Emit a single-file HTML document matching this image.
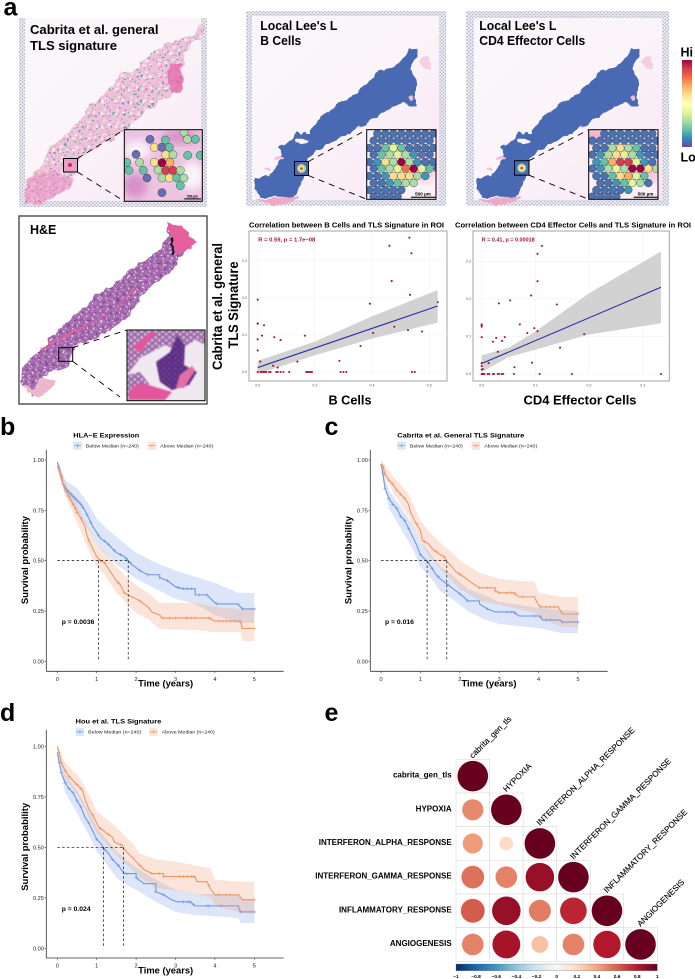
<!DOCTYPE html>
<html lang="en">
<head>
<meta charset="utf-8">
<title>Spatial TLS signature figure</title>
<style>
html,body{margin:0;padding:0;background:#fff;}
svg{display:block;font-family:"Liberation Sans",sans-serif;}
text{font-family:"Liberation Sans",sans-serif;}
</style>
</head>
<body>
<svg id="fig" xmlns="http://www.w3.org/2000/svg" width="695" height="979" viewBox="0 0 695 979">
<defs>
  <filter id="soft" x="-5%" y="-5%" width="110%" height="110%"><feGaussianBlur stdDeviation="0.7"/></filter>
  <filter id="softer" x="-20%" y="-20%" width="140%" height="140%"><feGaussianBlur stdDeviation="4"/></filter>
  <filter id="rough" x="-5%" y="-5%" width="110%" height="110%">
    <feTurbulence type="fractalNoise" baseFrequency="0.12" numOctaves="2" seed="4" result="n"/>
    <feDisplacementMap in="SourceGraphic" in2="n" scale="7" xChannelSelector="R" yChannelSelector="G"/>
    <feGaussianBlur stdDeviation="0.35"/>
  </filter>
  <filter id="roughLarge" x="-5%" y="-5%" width="110%" height="110%">
    <feTurbulence type="fractalNoise" baseFrequency="0.04" numOctaves="2" seed="7" result="n"/>
    <feDisplacementMap in="SourceGraphic" in2="n" scale="22" xChannelSelector="R" yChannelSelector="G"/>
    <feGaussianBlur stdDeviation="1"/>
  </filter>
  <pattern id="fid" width="3.6" height="3.4" patternUnits="userSpaceOnUse">
    <rect width="3.6" height="3.4" fill="#eeeef3"/>
    <circle cx="0.9" cy="0.85" r="0.75" fill="#a4a7bd"/>
    <circle cx="2.7" cy="2.55" r="0.75" fill="#a4a7bd"/>
  </pattern>
  <pattern id="tlsDots" width="42" height="37" patternUnits="userSpaceOnUse">
    <rect width="42" height="37" fill="#f2c0dc"/>
    <circle cx="5" cy="6" r="3" fill="#5fae9c"/>
    <circle cx="24" cy="3" r="2.8" fill="#9fd28f"/>
    <circle cx="36" cy="13" r="3" fill="#56a79c"/>
    <circle cx="15" cy="18" r="2.8" fill="#86c79a"/>
    <circle cx="28" cy="26" r="3" fill="#5fae9c"/>
    <circle cx="6" cy="30" r="2.8" fill="#a8d98e"/>
    <circle cx="38" cy="33" r="2.4" fill="#8b9cc8"/>
    <circle cx="18" cy="33" r="3.4" fill="#fbeef6"/>
    <circle cx="33" cy="6" r="3.4" fill="#fbeef6"/>
    <circle cx="13" cy="9" r="4" fill="#fbeaf4"/>
    <circle cx="23" cy="14" r="2.6" fill="#e678b4"/>
  </pattern>
  <pattern id="heTex" width="21" height="19" patternUnits="userSpaceOnUse">
    <rect width="21" height="19" fill="#a267ab"/>
    <circle cx="4" cy="4" r="2.7" fill="#e2cde5"/>
    <circle cx="15" cy="7" r="2.6" fill="#7b4596"/>
    <circle cx="9" cy="14" r="2.7" fill="#e2cfe6"/>
    <circle cx="18" cy="16" r="2.2" fill="#c08ac2"/>
  </pattern>
  <pattern id="heFine" width="6" height="5.4" patternUnits="userSpaceOnUse">
    <rect width="6" height="5.4" fill="#5d2f85"/>
    <circle cx="1.5" cy="1.3" r=".8" fill="#8a5aa6"/>
    <circle cx="4.4" cy="3.8" r=".8" fill="#7a4a9a"/>
  </pattern>
  <pattern id="heFinePale" width="7" height="6" patternUnits="userSpaceOnUse">
    <rect width="7" height="6" fill="#a06aac"/>
    <circle cx="1.7" cy="1.5" r="1.1" fill="#ecdcee"/>
    <circle cx="5.2" cy="4.2" r="1.1" fill="#e8d8ec"/>
  </pattern>
  <linearGradient id="pinkBg" x1="0" y1="0" x2="1" y2="1">
    <stop offset="0" stop-color="#f9f7f9"/><stop offset="0.5" stop-color="#fbf4f9"/><stop offset="1" stop-color="#f9e3f1"/>
  </linearGradient>
  <linearGradient id="spectralBar" x1="0" y1="0" x2="0" y2="1">
    <stop offset="0" stop-color="#9e0142"/><stop offset="0.1" stop-color="#d53e4f"/><stop offset="0.2" stop-color="#f46d43"/>
    <stop offset="0.3" stop-color="#fdae61"/><stop offset="0.4" stop-color="#fee08b"/><stop offset="0.5" stop-color="#ffffbf"/>
    <stop offset="0.6" stop-color="#e6f598"/><stop offset="0.7" stop-color="#abdda4"/><stop offset="0.8" stop-color="#66c2a5"/>
    <stop offset="0.9" stop-color="#3288bd"/><stop offset="1" stop-color="#5e4fa2"/>
  </linearGradient>
  <linearGradient id="corrBar" x1="0" y1="0" x2="1" y2="0">
    <stop offset="0" stop-color="#053061"/><stop offset="0.1" stop-color="#2166ac"/><stop offset="0.2" stop-color="#4393c3"/>
    <stop offset="0.3" stop-color="#92c5de"/><stop offset="0.4" stop-color="#d1e5f0"/><stop offset="0.5" stop-color="#f7f7f7"/>
    <stop offset="0.6" stop-color="#fddbc7"/><stop offset="0.7" stop-color="#f4a582"/><stop offset="0.8" stop-color="#d6604d"/>
    <stop offset="0.9" stop-color="#b2182b"/><stop offset="1" stop-color="#67001f"/>
  </linearGradient>
  <clipPath id="clipInset1"><rect x="124.3" y="129.7" width="78" height="71.6"/></clipPath>
  <clipPath id="clipInset2"><rect x="366.7" y="129.7" width="69.3" height="69.6"/></clipPath>
  <clipPath id="clipInset3"><rect x="588.7" y="129.7" width="69.3" height="69.6"/></clipPath>
  <clipPath id="clipHe"><rect x="127" y="330" width="78" height="70.7"/></clipPath>
</defs>

<!-- PANEL A : spatial images -->
<text x="3.5" y="15.5" font-size="25" font-weight="700" fill="#000">a</text>

<g>
  <rect x="19" y="18" width="188" height="189" fill="url(#pinkBg)"/>
  <path d="M19 18H25V201H201V18H207V207H19Z" fill="url(#fid)"/>
  <g transform="scale(.33333)" filter="url(#roughLarge)">
    <polygon points="72,580 78,545 105,515 130,490 150,440 180,420 210,400 225,370 255,345 265,310 300,290 345,250 365,220 410,205 440,170 470,150 495,130 540,115 580,105 600,70 615,80 610,115 575,125 550,180 548,270 515,285 470,310 430,345 370,395 300,440 240,470 225,520 215,560 175,585 120,615 75,610" fill="url(#tlsDots)"/>
    <polygon points="75,575 90,530 150,510 215,535 210,560 170,585 115,610 75,608" fill="#e985bd" opacity=".45"/>
    <polygon points="505,190 545,195 548,265 515,280 505,240" fill="#e55fa7" opacity=".7"/>
  </g>
  <rect x="63.5" y="158.5" width="14" height="13.5" fill="#e8a0c8" stroke="#000" stroke-width="1"/>
  <circle cx="70" cy="165" r="2" fill="#c9304a"/>
  <line x1="77.5" y1="158.5" x2="124.3" y2="129.7" stroke="#000" stroke-width=".9" stroke-dasharray="6 5"/>
  <line x1="77.5" y1="172" x2="124.3" y2="201.3" stroke="#000" stroke-width=".9" stroke-dasharray="6 5"/>
  <rect x="124.3" y="129.7" width="78" height="71.6" fill="#ecc4e2"/>
  <g clip-path="url(#clipInset1)">
    <ellipse cx="137" cy="150" rx="13" ry="9" fill="#faf3fa" filter="url(#softer)"/>
    <ellipse cx="192" cy="176" rx="12" ry="14" fill="#faf3fa" filter="url(#softer)"/>
    <ellipse cx="180" cy="137" rx="18" ry="7" fill="#d890c8" filter="url(#softer)"/>
    <ellipse cx="135" cy="186" rx="12" ry="12" fill="#d890c8" filter="url(#softer)"/>
    <g id="spots1"></g>
  </g>
  <rect x="124.3" y="129.7" width="78" height="71.6" fill="none" stroke="#000" stroke-width="1"/>
  <text x="192.5" y="197.3" font-size="3.2" font-weight="700" text-anchor="middle">500 µm</text>
  <rect x="184.3" y="198.4" width="16.7" height="1" fill="#000"/>
  <text x="30" y="34" font-size="13" font-weight="700" textLength="128.5" lengthAdjust="spacingAndGlyphs">Cabrita et al. general</text>
  <text x="30" y="50" font-size="13" font-weight="700" textLength="87" lengthAdjust="spacingAndGlyphs">TLS signature</text>
</g>

<g>
  <rect x="246" y="11" width="200" height="195" fill="url(#pinkBg)"/>
  <path d="M246 11H446V206H246ZM252 16V200H439V16Z" fill="url(#fid)" fill-rule="evenodd"/>
  <g transform="translate(-222,0)" filter="url(#rough)">
    <use href="#blueTissue"/>
  </g>
  <rect x="294.5" y="161.5" width="14" height="14" fill="#4a6ab2" stroke="#000" stroke-width="1"/>
  <circle cx="301.5" cy="168.5" r="4.5" fill="#a9dca0"/>
  <circle cx="301.5" cy="168.5" r="2.8" fill="#fde58e"/>
  <circle cx="301.5" cy="168.5" r="1.3" fill="#c9304a"/>
  <line x1="308.5" y1="161.5" x2="366.7" y2="129.7" stroke="#000" stroke-width=".9" stroke-dasharray="6 5"/>
  <line x1="308.5" y1="175.5" x2="366.7" y2="199.3" stroke="#000" stroke-width=".9" stroke-dasharray="6 5"/>
  <rect x="366.7" y="129.7" width="69.3" height="69.6" fill="#fbf1f7"/>
  <g clip-path="url(#clipInset2)">
    <ellipse cx="425" cy="172" rx="10" ry="10" fill="#f3c6dd" filter="url(#softer)"/>
    <g id="spots2"></g>
  </g>
  <rect x="366.7" y="129.7" width="69.3" height="69.6" fill="none" stroke="#000" stroke-width="1"/>
  <text x="423" y="195.5" font-size="4.6" font-weight="700" text-anchor="middle">500 µm</text>
  <rect x="411" y="196.7" width="24.3" height="1.1" fill="#000"/>
  <text x="260.3" y="30" font-size="12.5" font-weight="700" textLength="77" lengthAdjust="spacingAndGlyphs">Local Lee's L</text>
  <text x="260.3" y="45" font-size="12.5" font-weight="700" textLength="41" lengthAdjust="spacingAndGlyphs">B Cells</text>
</g>

<g>
  <rect x="466" y="11" width="203" height="195" fill="url(#pinkBg)"/>
  <path d="M466 11H669V206H466ZM474 18V200H662V18Z" fill="url(#fid)" fill-rule="evenodd"/>
  <g filter="url(#rough)">
    <g id="blueTissue">
      <path d="M478 200Q505 210 520 197L510 196Z" fill="#eda9cb"/>
      <polygon fill="#4a6ab2" points="477,187 478,178 491,176 503,160 501,148 515,140 518,133 531,133 541,117 555,108 572,97 585,88 598,73 621,65 631,49 639,48 639,57 633,67 634,73 639,80 639,107 623,103 608,112 586,125 558,140 528,158 525,180 516,197 500,196 482,198"/>
      <ellipse cx="523" cy="141" rx="6" ry="2.2" fill="#fbf4f9"/>
      <ellipse cx="500" cy="158" rx="5" ry="2" fill="#f3c0da"/>
      <ellipse cx="488" cy="170" rx="3" ry="1.5" fill="#f3c0da"/>
      <ellipse cx="633" cy="98" rx="3.5" ry="2" fill="#f2bcd8"/>
      <ellipse cx="648" cy="62" rx="5" ry="7" fill="#f4cfe2"/>
    </g>
  </g>
  <rect x="514.5" y="160.7" width="14.5" height="14.5" fill="#4a6ab2" stroke="#000" stroke-width="1"/>
  <circle cx="521.7" cy="168" r="4.5" fill="#a9dca0"/>
  <circle cx="521.7" cy="168" r="2.8" fill="#fde58e"/>
  <circle cx="521.7" cy="168" r="1.3" fill="#c9304a"/>
  <line x1="529" y1="160.7" x2="588.7" y2="129.7" stroke="#000" stroke-width=".9" stroke-dasharray="6 5"/>
  <line x1="529" y1="175.2" x2="588.7" y2="199.3" stroke="#000" stroke-width=".9" stroke-dasharray="6 5"/>
  <rect x="588.7" y="129.7" width="69.3" height="69.6" fill="#fbf1f7"/>
  <g clip-path="url(#clipInset3)">
    <ellipse cx="594" cy="136" rx="11" ry="9" fill="#eeb0d0" filter="url(#softer)"/>
    <ellipse cx="652" cy="172" rx="8" ry="12" fill="#f3c6dd" filter="url(#softer)"/>
    <g id="spots3"></g>
  </g>
  <rect x="588.7" y="129.7" width="69.3" height="69.6" fill="none" stroke="#000" stroke-width="1"/>
  <text x="645.5" y="195.5" font-size="4.6" font-weight="700" text-anchor="middle">500 µm</text>
  <rect x="633.7" y="196.7" width="24" height="1.1" fill="#000"/>
  <text x="479.3" y="30" font-size="12.5" font-weight="700" textLength="77" lengthAdjust="spacingAndGlyphs">Local Lee's L</text>
  <text x="479.3" y="45" font-size="12.5" font-weight="700" textLength="106" lengthAdjust="spacingAndGlyphs">CD4 Effector Cells</text>
</g>

<g>
  <text x="680.5" y="56.5" font-size="12.5" font-weight="700">Hi</text>
  <rect x="682" y="60" width="10" height="87" fill="url(#spectralBar)"/>
  <text x="680.5" y="161.5" font-size="12.5" font-weight="700">Lo</text>
</g>

<!-- H&E -->
<g>
  <rect x="19" y="216" width="188" height="188" fill="#fff" stroke="#4a4a4a" stroke-width="1.4"/>
  <text x="30" y="234" font-size="12.5" font-weight="700">H&amp;E</text>
  <g transform="translate(0,235) scale(.33333)" filter="url(#roughLarge)">
    <polygon points="60,440 70,395 120,345 170,290 230,235 285,185 340,150 385,110 470,50 500,10 505,-35 540,-30 590,25 560,45 520,100 480,130 440,165 400,215 380,255 300,300 225,335 205,395 130,420 120,470 100,485 70,455" fill="url(#heTex)"/>
    <polygon points="505,-35 540,-30 590,25 560,45 530,60 520,30" fill="#e85fa0"/>
    <path d="M512 10L522 65" stroke="#1c1020" stroke-width="7" fill="none"/>
    <path d="M350 220L400 165M220 290L310 245M120 345L170 320L230 280" stroke="#e8639f" stroke-width="5" fill="none"/>
    <path d="M60 445Q95 490 125 485L170 440L130 425L100 460Z" fill="#eab8cc"/>
  </g>
  <rect x="58.7" y="347.7" width="14" height="13.6" fill="none" stroke="#000" stroke-width="1"/>
  <line x1="72.7" y1="347.7" x2="127" y2="330" stroke="#000" stroke-width=".9" stroke-dasharray="6 5"/>
  <line x1="72.7" y1="361.3" x2="120" y2="397" stroke="#000" stroke-width=".9" stroke-dasharray="6 5"/>
  <rect x="127" y="330" width="78" height="70.7" fill="#f1e9f0"/>
  <g clip-path="url(#clipHe)" filter="url(#soft)">
    <polygon points="127,330 205,330 205,345 196,340 178,350 165,345 140,358 127,375" fill="url(#heFinePale)"/>
    <polygon points="127,375 140,372 150,385 160,394 145,400 127,400" fill="url(#heFinePale)"/>
    <polygon points="156,362 170,352 177,335 185,345 184,365 197,372 189,385 172,390 160,382" fill="url(#heFine)"/>
    <polygon points="133,348 150,332 155,333 140,353" fill="#e4559b"/>
    <polygon points="128,400 132,386 145,384 172,392 165,400" fill="#e4559b"/>
    <polygon points="180,375 192,366 195,370 184,388 176,388" fill="#e46ea6"/>
  </g>
  <rect x="127" y="330" width="78" height="70.7" fill="none" stroke="#000" stroke-width="1"/>
</g>

<text transform="translate(222,306.5) rotate(-90)" font-size="14" font-weight="700" text-anchor="middle" textLength="127" lengthAdjust="spacingAndGlyphs">Cabrita et al. general</text>
<text transform="translate(238,305) rotate(-90)" font-size="14" font-weight="700" text-anchor="middle" textLength="87" lengthAdjust="spacingAndGlyphs">TLS Signature</text>
<g id="scatters"></g>

<text x="0" y="435" font-size="25" font-weight="700">b</text>
<text x="324.5" y="435" font-size="25" font-weight="700">c</text>
<text x="0" y="721" font-size="25" font-weight="700">d</text>
<text x="324.5" y="721" font-size="25" font-weight="700">e</text>

<g id="kmPlots"></g>
<g id="corrPlot"></g>

<script>
// ---------- Panel a spots (level 0-10 on the spectral scale)
const spectralLevels = ['#6a6db3','#4a72b5','#3f96b7','#66c2a5','#abdda4','#e6f598','#fee08b','#fdae61','#f46d43','#d53e4f','#9e0142'];
const inset1Spots = [[552,397,4],[562,418,4],[586,418,3],[450,418,0],[496,420,3],[463,442,6],[485,442,0],[508,442,3],[408,463,0],[497,464,6],[519,464,4],[563,466,3],[601,466,3],[380,487,3],[419,487,4],[463,487,6],[486,488,10],[510,488,7],[387,511,3],[430,511,3],[474,510,4],[497,511,9],[519,511,9],[541,511,4],[441,534,0],[486,534,4],[508,534,6],[530,534,3],[552,534,4],[541,557,3],[486,578,0]];
const inset2Rows = [[401,73,'.11111111'],[422,86,'11111111'],[444,73,'113531111'],[464,86,'13454201'],[486,73,'1264a4211'],[506,86,'13458a531'],[528,73,'11266642.'],[549,86,'112344.'],[570,73,'11111'],[590,86,'1111']];
const inset3Rows = [[401,754,'.1111111'],[422,742,'111111111'],[444,754,'11464311'],[464,742,'124654211'],[486,754,'23799521'],[506,742,'12454aa64'],[528,754,'1136753.'],[549,742,'.1123541'],[570,754,'11112'],[590,742,'1111']];

function drawSpot(host, cx, cy, r, level) {
  const el = document.createElementNS('http://www.w3.org/2000/svg', 'circle');
  el.setAttribute('cx', cx);
  el.setAttribute('cy', cy);
  el.setAttribute('r', r);
  el.setAttribute('fill', spectralLevels[level]);
  el.setAttribute('stroke', '#222');
  el.setAttribute('stroke-width', '.35');
  
  
  host.appendChild(el);
}
inset1Spots.forEach(s => drawSpot(document.getElementById('spots1'), s[0] / 3, s[1] / 3, 4.1, s[2]));
function drawRows(rows, hostId, ox) {
  const host = document.getElementById(hostId);
  rows.forEach(row => {
    [...row[2]].forEach((c, i) => {
      if (c === '.') return;
      drawSpot(host, ox + (row[1] + 24 * i) / 3, row[0] / 3, 3.9, c === 'a' ? 10 : Number(c));
    });
  });
}
drawRows(inset2Rows, 'spots2', 345);
drawRows(inset3Rows, 'spots3', 345);

// ---------- helpers
const NS = 'http://www.w3.org/2000/svg';
function linear(d0, d1, r0, r1) { return v => r0 + (v - d0) * (r1 - r0) / (d1 - d0); }
function node(tag, attrs, parent, txt) {
  const el = document.createElementNS(NS, tag);
  for (const k in attrs) el.setAttribute(k, attrs[k]);
  if (txt !== undefined) el.textContent = txt;
  parent.appendChild(el);
  return el;
}

// ---------- Correlation scatter data
const scatter1X = [0,0,0,0,0,0.009,0.015,0.022,0.058,0.08,0.054,0.07,0.139,0.165,0.286,0.36,0.393,0.404,0.461,0.469,0.531,0.538,0.533,0.478,0.526,0.575,0.63,0,0.01,0.015,0.02,0.025,0.03,0.04,0.045,0.065,0.07,0.08,0.09,0.11,0.17,0.175,0.18,0.185,0.19,0.29,0.3,0.31,0.54,0.55];
const scatter1Y = [0.195,0.131,0.13,0.088,0.058,0.028,0.098,0.126,0.094,0.086,0.017,0.012,0.028,0.098,0.03,0.07,0.184,0.105,0.34,0.245,0.362,0.32,0.208,0.122,0.113,0.109,0.188,0,0,0,0,0,0,0,0,0,0,0,0,0,0,0,0,0,0,0,0,0,0,0];
const fit1X = [0,0.63];
const fit1Y = [0.012,0.178];
const band1X = [0,0.2,0.4,0.63];
const band1Upper = [0.03,0.082,0.15,0.221];
const band1Lower = [-0.005,0.045,0.09,0.133];
const scatter1XTicks = [0,0.2,0.4,0.6];
const scatter2X = [0.112,0.104,0.104,0.092,0.053,0.032,0.14,0,0,0,0.071,0.098,0.104,0.085,0.191,0,0.043,0.027,0.021,0.038,0.146,0.03,0.013,0.094,0.061,0,0,0.002,0,0,0.001,0.002,0.004,0.005,0.011,0.014,0.021,0.023,0.03,0.032,0.037,0.04,0.06,0.108,0.168,0.334];
const scatter2Y = [0.341,0.32,0.247,0.209,0.196,0.188,0.185,0.132,0.13,0.126,0.132,0.122,0.114,0.109,0.106,0.098,0.098,0.096,0.086,0.088,0.07,0.059,0.029,0.03,0.018,0.029,0.021,0.013,0.012,0,0,0,0,0,0,0,0,0,0,0,0,0,0,0,0,0];
const fit2X = [0,0.334];
const fit2Y = [0.028,0.231];
const band2X = [0,0.05,0.1,0.2,0.334];
const band2Upper = [0.05,0.07,0.113,0.215,0.326];
const band2Lower = [0.005,0.045,0.065,0.105,0.135];
const scatter2XTicks = [0,0.1,0.2,0.3];
const scatterYTicks = [0,0.1,0.2,0.3];

function drawScatter(cfg) {
  const host = document.getElementById('scatters');
  const g = node('g', {}, host);
  
  
  const x = linear(0, 1, cfg.x0, cfg.x0 + cfg.xs);
  const y = linear(0, 1, cfg.y0, cfg.y0 - cfg.ys);
  const title = node('text', {x: cfg.titleX, y: 227.5, 'font-size': 7.6, 'font-weight': 700, textLength: cfg.titleW, lengthAdjust: 'spacingAndGlyphs'}, g, cfg.title);
  
  
  const frame = node('rect', {x: cfg.left, y: 231, width: cfg.right - cfg.left, height: 150, fill: '#fff', stroke: '#9a9a9a', 'stroke-width': .9}, g);
  
  
  cfg.xTicks.forEach((t, i) => {
    const gl = node('line', {x1: x(t), x2: x(t), y1: 231, y2: 381, stroke: '#efefef', 'stroke-width': .5}, g);
    
    
    const lb = node('text', {x: x(t), y: 386.5, 'font-size': 3.6, fill: '#555', 'text-anchor': 'middle'}, g, t.toFixed(1));
    
    
  });
  scatterYTicks.forEach(t => {
    const gl = node('line', {x1: cfg.left, x2: cfg.right, y1: y(t), y2: y(t), stroke: '#efefef', 'stroke-width': .5}, g);
    
    
    const lb = node('text', {x: cfg.left - 2, y: y(t) + 1.2, 'font-size': 3.6, fill: '#555', 'text-anchor': 'end'}, g, t.toFixed(1));
    
    
  });
  let pts = cfg.bandX.map((v, i) => x(v) + ',' + y(cfg.upper[i]));
  pts = pts.concat(cfg.bandX.map((v, i) => x(v) + ',' + y(cfg.lower[i])).reverse());
  const band = node('polygon', {points: pts.join(' '), fill: '#d2d2d2'}, g);
  
  
  const fit = node('line', {x1: x(cfg.fitX[0]), y1: y(cfg.fitY[0]), x2: x(cfg.fitX[1]), y2: y(cfg.fitY[1]), stroke: '#2c2fa6', 'stroke-width': 1.1}, g);
  
  
  cfg.px.forEach((v, i) => {
    const p = node('circle', {cx: x(v), cy: y(cfg.py[i]), r: 1.05, fill: '#a8142f'}, g);
    
    
  });
  const stat = node('text', {x: cfg.statX, y: 241.7, 'font-size': 5.5, 'font-weight': 700, fill: '#a8142f', textLength: cfg.statW, lengthAdjust: 'spacingAndGlyphs'}, g, cfg.stat);
  
  
  const xt = node('text', {x: cfg.xTitleX, y: 404.5, 'font-size': 13, 'font-weight': 700, 'text-anchor': 'middle', textLength: cfg.xTitleW, lengthAdjust: 'spacingAndGlyphs'}, g, cfg.xTitle);
  
  
}
drawScatter({name:'scatter-b-cells', title:'Correlation between B Cells and TLS Signature in ROI', titleX:249, titleW:195, left:249, right:447, x0:257.7, xs:285.7, y0:372, ys:371, xTicks:scatter1XTicks, bandX:band1X, upper:band1Upper, lower:band1Lower, fitX:fit1X, fitY:fit1Y, px:scatter1X, py:scatter1Y, stat:'R = 0.59, p = 1.7e−08', statX:258.3, statW:57, xTitle:'B Cells', xTitleX:350, xTitleW:43});
drawScatter({name:'scatter-cd4-effector', title:'Correlation between CD4 Effector Cells and TLS Signature in ROI', titleX:455, titleW:236, left:473, right:669.3, x0:481.7, xs:536.7, y0:374, ys:375.7, xTicks:scatter2XTicks, bandX:band2X, upper:band2Upper, lower:band2Lower, fitX:fit2X, fitY:fit2Y, px:scatter2X, py:scatter2Y, stat:'R = 0.41, p = 0.00018', statX:481.7, statW:53, xTitle:'CD4 Effector Cells', xTitleX:580, xTitleW:113});

// ---------- Kaplan-Meier data (panel b)
const bBelowT = [0,0.05,0.1,0.15,0.25,0.4,0.5,0.6,0.7,0.8,0.9,1,1.1,1.25,1.4,1.5,1.7,1.8,1.9,2.1,2.3,2.6,2.8,3,3.2,3.5,3.8,3.95,4.05,4.6,4.7,5];
const bBelowS = [0.99,0.96,0.92,0.88,0.85,0.82,0.8,0.78,0.75,0.71,0.67,0.64,0.61,0.59,0.56,0.54,0.52,0.5,0.48,0.45,0.43,0.415,0.4,0.37,0.36,0.33,0.33,0.3,0.285,0.28,0.26,0.26];
const bBelowCiT = [0,0.2,0.5,0.8,1,1.25,1.5,1.8,2,2.5,3,3.5,4,4.6,5];
const bBelowUp = [1,0.9,0.86,0.78,0.71,0.66,0.62,0.57,0.54,0.49,0.45,0.42,0.39,0.34,0.34];
const bBelowLo = [0.97,0.82,0.75,0.65,0.58,0.53,0.48,0.44,0.41,0.36,0.31,0.285,0.23,0.19,0.19];
const bBelowCensor = [0.05,0.1,0.15,0.25,0.3,0.35,0.4,0.45,0.5,0.55,0.6,0.65,0.75,0.85,1.05,1.2,1.3,1.45,1.6,1.75,1.85,2.1,2.3,2.6,2.8,3.05,3.1,3.2,3.3,3.4,3.6,3.8,4.05,4.7,5];
const bAboveT = [0,0.05,0.1,0.2,0.3,0.4,0.5,0.6,0.7,0.75,0.8,0.9,1,1.1,1.2,1.3,1.4,1.5,1.6,1.7,1.9,2.1,2.3,2.4,2.6,2.65,3.5,3.9,4,4.65,4.7,5];
const bAboveS = [0.97,0.95,0.91,0.85,0.82,0.78,0.74,0.71,0.67,0.63,0.6,0.56,0.52,0.5,0.49,0.46,0.43,0.4,0.38,0.34,0.32,0.3,0.27,0.245,0.23,0.215,0.215,0.21,0.2,0.195,0.163,0.163];
const bAboveCiT = [0,0.3,0.5,0.8,1,1.2,1.5,1.8,2,2.3,2.6,3.5,4,4.65,4.7,5];
const bAboveUp = [0.99,0.85,0.78,0.66,0.58,0.55,0.47,0.41,0.38,0.34,0.29,0.29,0.27,0.26,0.26,0.26];
const bAboveLo = [0.95,0.78,0.69,0.55,0.47,0.43,0.34,0.28,0.24,0.21,0.16,0.155,0.145,0.145,0.1,0.1];
const bAboveCensor = [0.05,0.1,0.15,0.2,0.3,0.4,0.45,0.5,0.6,0.8,1.1,1.2,1.55,1.7,2.1,2.7,2.85,3,3.25,3.3,3.4,3.5,3.85,4.1,4.2,4.3,4.4,4.5,4.65,5];
const bMedians = [1.05,1.8];
// panel c
const cBelowT = [0,0.05,0.1,0.2,0.3,0.4,0.5,0.6,0.7,0.8,0.9,1,1.1,1.2,1.3,1.4,1.5,1.7,1.9,2.1,2.2,2.5,2.7,2.9,3.4,3.5,4.05,4.1,4.55,4.6,5];
const cBelowS = [0.98,0.93,0.86,0.81,0.78,0.76,0.72,0.7,0.66,0.62,0.58,0.53,0.51,0.49,0.46,0.43,0.41,0.38,0.35,0.32,0.3,0.285,0.26,0.245,0.24,0.225,0.22,0.205,0.205,0.195,0.195];
const cBelowCiT = [0,0.2,0.5,0.8,1,1.2,1.5,1.8,2.2,2.6,3,3.5,4,4.6,5];
const cBelowUp = [0.99,0.85,0.77,0.68,0.59,0.55,0.47,0.43,0.36,0.33,0.295,0.28,0.265,0.255,0.25];
const cBelowLo = [0.96,0.76,0.66,0.56,0.47,0.43,0.35,0.31,0.25,0.21,0.185,0.175,0.165,0.14,0.14];
const cBelowCensor = [0.05,0.1,0.2,0.3,0.4,0.5,0.6,0.7,1,1.2,1.3,1.45,1.7,2,2.2,2.7,3.2,3.3,3.4,3.9,4.05,4.2,4.3,4.6,5];
const cAboveT = [0,0.05,0.1,0.2,0.3,0.4,0.5,0.6,0.7,0.75,0.85,1,1.05,1.2,1.3,1.5,1.6,1.7,1.8,1.9,2.1,2.3,2.5,2.9,3,3.4,3.5,3.9,4,4.05,4.5,4.6,5];
const cAboveS = [0.98,0.97,0.93,0.9,0.88,0.85,0.83,0.81,0.78,0.74,0.7,0.65,0.6,0.585,0.56,0.53,0.52,0.49,0.47,0.445,0.42,0.39,0.365,0.35,0.34,0.335,0.32,0.315,0.28,0.27,0.27,0.235,0.235];
const cAboveCiT = [0,0.3,0.5,0.7,1,1.2,1.5,1.8,2,2.5,3,3.5,3.9,4,4.6,5];
const cAboveUp = [1,0.92,0.88,0.83,0.7,0.65,0.59,0.54,0.5,0.44,0.41,0.4,0.395,0.34,0.32,0.32];
const cAboveLo = [0.96,0.84,0.78,0.72,0.59,0.53,0.46,0.4,0.36,0.3,0.28,0.26,0.24,0.22,0.17,0.17];
const cAboveCensor = [0.05,0.1,0.2,0.3,0.4,0.5,0.6,0.9,1.1,1.4,1.6,2,2.5,2.7,2.9,3,3.2,3.3,3.4,3.6,4.05,4.2,4.3,4.4,5];
const cMedians = [1.17,1.67];
// panel d
const dBelowT = [0,0.05,0.1,0.2,0.3,0.4,0.5,0.6,0.7,0.8,0.9,1,1.1,1.2,1.3,1.4,1.55,1.7,2,2.2,2.5,2.7,2.9,3.05,3.4,3.5,4.6,4.65,5];
const dBelowS = [0.97,0.92,0.87,0.82,0.79,0.77,0.73,0.7,0.65,0.62,0.58,0.54,0.52,0.49,0.47,0.44,0.41,0.37,0.35,0.32,0.28,0.265,0.24,0.23,0.225,0.21,0.205,0.18,0.18];
const dBelowCiT = [0,0.2,0.5,0.8,1,1.2,1.5,1.8,2,2.5,3,3.5,4.6,4.65,5];
const dBelowUp = [0.99,0.86,0.78,0.68,0.6,0.55,0.48,0.43,0.4,0.34,0.29,0.27,0.265,0.245,0.245];
const dBelowLo = [0.95,0.77,0.67,0.56,0.48,0.43,0.35,0.31,0.29,0.23,0.18,0.165,0.15,0.125,0.125];
const dBelowCensor = [0.05,0.1,0.2,0.3,0.4,0.5,0.6,0.8,1,1.2,1.4,1.55,1.75,2,2.5,2.7,3.2,3.3,3.35,3.45,3.8,3.85,4.15,4.65,5];
const dAboveT = [0,0.05,0.1,0.2,0.3,0.5,0.65,0.7,0.8,0.9,1,1.05,1.25,1.4,1.45,1.65,1.7,1.9,2.1,2.2,2.4,2.7,3.5,3.55,3.8,3.9,4,4.6,4.7,5];
const dAboveS = [1,0.97,0.92,0.88,0.85,0.81,0.78,0.74,0.69,0.66,0.62,0.6,0.57,0.55,0.525,0.51,0.49,0.45,0.41,0.39,0.37,0.355,0.35,0.33,0.33,0.29,0.265,0.265,0.24,0.24];
const dAboveCiT = [0,0.2,0.5,0.7,1,1.5,1.9,2.1,2.5,3,3.5,3.9,4,4.6,5];
const dAboveUp = [1,0.92,0.86,0.8,0.68,0.6,0.52,0.47,0.44,0.43,0.41,0.395,0.34,0.33,0.33];
const dAboveLo = [0.98,0.84,0.76,0.69,0.57,0.46,0.39,0.35,0.3,0.285,0.27,0.25,0.21,0.18,0.17];
const dAboveCensor = [0.05,0.1,0.2,0.3,0.5,0.6,0.9,1.1,1.3,1.6,2.1,2.4,2.6,2.7,3.1,3.2,3.3,3.4,3.45,3.85,4.1,4.3,4.4,5];
const dMedians = [1.17,1.68];
const kmXTicks = [0,1,2,3,4,5];
const kmYTicks = [0,0.25,0.5,0.75,1];

function curvePts(ts, vs, x, y) {
  const out = [];
  ts.forEach((t, i) => {
    if (i > 0 && t - ts[i - 1] > 0.22) out.push(x(t) + ',' + y(vs[i - 1]));
    out.push(x(t) + ',' + y(vs[i]));
  });
  return out;
}
function straightPts(ts, vs, x, y) {
  return ts.map((t, i) => x(t) + ',' + y(vs[i]));
}
function curveVal(ts, vs, t) {
  for (let i = 1; i < ts.length; i++) {
    if (t <= ts[i]) {
      if (ts[i] - ts[i - 1] > 0.22) return t === ts[i] ? vs[i] : vs[i - 1];
      return vs[i - 1] + (vs[i] - vs[i - 1]) * (t - ts[i - 1]) / (ts[i] - ts[i - 1]);
    }
  }
  return vs[vs.length - 1];
}
function drawSeries(g, cfg, s, x, y) {
  const upper = straightPts(s.ciT, s.up, x, y);
  const lower = straightPts(s.ciT, s.lo, x, y).reverse();
  const band = node('polygon', {points: upper.concat(lower).join(' '), fill: s.color, 'fill-opacity': .24}, g);
  
  
  const line = node('polyline', {points: curvePts(s.t, s.s, x, y).join(' '), fill: 'none', stroke: s.color, 'stroke-width': 1.1}, g);
  
  
  s.censor.forEach(t => {
    const v = curveVal(s.t, s.s, t);
    const mark = node('path', {d: 'M' + (x(t) - 1.6) + ' ' + y(v) + 'h3.2M' + x(t) + ' ' + (y(v) - 1.6) + 'v3.2', stroke: s.color, 'stroke-width': .6, fill: 'none'}, g);
    
    
  });
}
function drawKM(cfg) {
  const host = document.getElementById('kmPlots');
  const g = node('g', {}, host);
  
  
  const x = linear(0, 5, cfg.x0, cfg.x0 + 197);
  const y = linear(0, 1, cfg.y0, cfg.y1);
  drawSeries(g, cfg, cfg.below, x, y);
  drawSeries(g, cfg, cfg.above, x, y);
  const h = node('line', {x1: x(0), x2: x(cfg.medians[1]), y1: y(.5), y2: y(.5), stroke: '#111', 'stroke-width': .7, 'stroke-dasharray': '2.6 2.2'}, g);
  
  
  cfg.medians.forEach(m => {
    const v = node('line', {x1: x(m), x2: x(m), y1: y(.5), y2: y(0), stroke: '#111', 'stroke-width': .7, 'stroke-dasharray': '2.6 2.2'}, g);
    
    
  });
  const ax = node('line', {x1: cfg.axL, x2: cfg.axL + 237.4, y1: cfg.axB, y2: cfg.axB, stroke: '#333', 'stroke-width': .8}, g);
  
  
  const ay = node('line', {x1: cfg.axL, x2: cfg.axL, y1: cfg.axT, y2: cfg.axB, stroke: '#333', 'stroke-width': .8}, g);
  
  
  kmXTicks.forEach(t => {
    const tk = node('line', {x1: x(t), x2: x(t), y1: cfg.axB, y2: cfg.axB + 1.8, stroke: '#333', 'stroke-width': .6}, g);
    
    
    const lb = node('text', {x: x(t), y: cfg.axB + 9.5, 'font-size': 5.6, 'text-anchor': 'middle', fill: '#222'}, g, String(t));
    
    
  });
  kmYTicks.forEach(t => {
    const tk = node('line', {x1: cfg.axL - 1.8, x2: cfg.axL, y1: y(t), y2: y(t), stroke: '#333', 'stroke-width': .6}, g);
    
    
    const lb = node('text', {x: cfg.axL - 2.4, y: y(t) + 2, 'font-size': 5.6, 'text-anchor': 'end', fill: '#222'}, g, t.toFixed(2));
    
    
  });
  const xt = node('text', {x: cfg.timeX, y: cfg.axB + 15.4, 'font-size': 9, 'font-weight': 700, 'text-anchor': 'middle', textLength: 55, lengthAdjust: 'spacingAndGlyphs'}, g, 'Time (years)');
  
  
  const yt = node('text', {transform: 'translate(' + cfg.survX + ',' + (y(.5) - .5) + ') rotate(-90)', 'font-size': 9, 'font-weight': 700, 'text-anchor': 'middle', textLength: 88, lengthAdjust: 'spacingAndGlyphs'}, g, 'Survival probability');
  
  
  const pv = node('text', {x: cfg.pX, y: y(.25) + 13, 'font-size': 6.8, 'font-weight': 700}, g, cfg.p);
  
  
  const ti = node('text', {x: cfg.legX[0], y: cfg.titleY, 'font-size': 6.6, 'font-weight': 700, textLength: cfg.titleW, lengthAdjust: 'spacingAndGlyphs'}, g, cfg.title);
  
  
  [cfg.below, cfg.above].forEach((s, i) => {
    const sw = node('rect', {x: cfg.legX[i], y: cfg.titleY + 4.2, width: 8.4, height: 8.3, fill: s.color, 'fill-opacity': .24}, g);
    
    
    const sl = node('path', {d: 'M' + (cfg.legX[i] + .5) + ' ' + (cfg.titleY + 8.4) + 'h7.4M' + (cfg.legX[i] + 4.2) + ' ' + (cfg.titleY + 6.8) + 'v3.2', stroke: s.color, 'stroke-width': .7, fill: 'none'}, g);
    
    
    const lb = node('text', {x: cfg.legX[i] + 12.5, y: cfg.titleY + 10, 'font-size': 4.8, fill: '#222', textLength: 53, lengthAdjust: 'spacingAndGlyphs'}, g, s.label);
    
    
  });
}
const BLUE = '#6f96e3', ORANGE = '#ee9467';
drawKM({name:'survival-plot-hla-e', title:'HLA−E Expression', titleW:66, titleY:437.3, legX:[73.3,147.7], x0:57.3, y0:661.3, y1:460, axL:46.3, axB:671.3, axT:450, timeX:165.7, survX:28, pX:61.7, p:'p = 0.0036', medians:bMedians,
  below:{key:'below-median', label:'Below Median (n=240)', color:BLUE, t:bBelowT, s:bBelowS, ciT:bBelowCiT, up:bBelowUp, lo:bBelowLo, censor:bBelowCensor},
  above:{key:'above-median', label:'Above Median (n=240)', color:ORANGE, t:bAboveT, s:bAboveS, ciT:bAboveCiT, up:bAboveUp, lo:bAboveLo, censor:bAboveCensor}});
drawKM({name:'survival-plot-cabrita', title:'Cabrita et al. General TLS Signature', titleW:127, titleY:437.3, legX:[397.3,471.7], x0:381, y0:661.3, y1:460, axL:370.3, axB:671.3, axT:450, timeX:489, survX:351.5, pX:385, p:'p = 0.016', medians:cMedians,
  below:{key:'below-median', label:'Below Median (n=240)', color:BLUE, t:cBelowT, s:cBelowS, ciT:cBelowCiT, up:cBelowUp, lo:cBelowLo, censor:cBelowCensor},
  above:{key:'above-median', label:'Above Median (n=240)', color:ORANGE, t:cAboveT, s:cAboveS, ciT:cAboveCiT, up:cAboveUp, lo:cAboveLo, censor:cAboveCensor}});
drawKM({name:'survival-plot-hou', title:'Hou et al. TLS Signature', titleW:85.5, titleY:723.5, legX:[75.7,149.3], x0:57.3, y0:948.3, y1:746.3, axL:46.3, axB:958, axT:730, timeX:165.7, survX:28, pX:61.7, p:'p = 0.024', medians:dMedians,
  below:{key:'below-median', label:'Below Median (n=240)', color:BLUE, t:dBelowT, s:dBelowS, ciT:dBelowCiT, up:dBelowUp, lo:dBelowLo, censor:dBelowCensor},
  above:{key:'above-median', label:'Above Median (n=240)', color:ORANGE, t:dAboveT, s:dAboveS, ciT:dAboveCiT, up:dAboveUp, lo:dAboveLo, censor:dAboveCensor}});

// ---------- Correlation matrix data
const corrVars = ['cabrita_gen_tls','HYPOXIA','INTERFERON_ALPHA_RESPONSE','INTERFERON_GAMMA_RESPONSE','INFLAMMATORY_RESPONSE','ANGIOGENESIS'];
const corrRow0 = [1];
const corrRow1 = [0.48,1];
const corrRow2 = [0.43,0.2,1];
const corrRow3 = [0.55,0.5,0.87,1];
const corrRow4 = [0.61,0.87,0.52,0.76,1];
const corrRow5 = [0.5,0.83,0.3,0.5,0.8,1];
const corrRows = [corrRow0,corrRow1,corrRow2,corrRow3,corrRow4,corrRow5];
const corrBarTicks = [-1,-0.8,-0.6,-0.4,-0.2,0,0.2,0.4,0.6,0.8,1];
const rdbuStops = ['#053061','#2166ac','#4393c3','#92c5de','#d1e5f0','#f7f7f7','#fddbc7','#f4a582','#d6604d','#b2182b','#67001f'];
function hexRgb(h) { return [1,3,5].map(i => parseInt(h.substr(i, 2), 16)); }
function corrColor(v) {
  const p = (v + 1) / 2 * 10, i = Math.min(9, Math.floor(p)), f = p - i;
  const a = hexRgb(rdbuStops[i]), b = hexRgb(rdbuStops[i + 1]);
  return 'rgb(' + a.map((c, k) => Math.round(c + (b[k] - c) * f)).join(',') + ')';
}
(function () {
  const g = document.getElementById('corrPlot');
  const cellW = (657.3 - 456) / 6, cellH = (961.3 - 759.3) / 6;
  const cx = linear(0, 6, 456, 657.3), cy = linear(0, 6, 759.3, 961.3);
  corrRows.forEach((row, r) => {
    const lab = node('text', {x: 451.7, y: cy(r + .5) + 1.5, 'font-size': 8, 'font-weight': 700, 'text-anchor': 'end'}, g, corrVars[r]);
    
    
    const tx = cx(r + .5), ty = cy(r) - .6;
    const top = node('text', {transform: 'translate(' + tx + ',' + ty + ') rotate(-45)', 'font-size': 8.2, fill: '#000', stroke: '#000', 'stroke-width': .12}, g, corrVars[r]);
    
    
    row.forEach((v, c) => {
      const cell = node('rect', {x: cx(c), y: cy(r), width: cellW, height: cellH, fill: '#fff', stroke: '#d9d9d9', 'stroke-width': .6}, g);
      
      
      const dot = node('circle', {cx: cx(c + .5), cy: cy(r + .5), r: 15.3 * Math.sqrt(Math.abs(v)), fill: corrColor(v)}, g);
      
      
    });
  });
  const bar = node('rect', {x: 456, y: 964, width: 201.3, height: 6.7, fill: 'url(#corrBar)', stroke: '#666', 'stroke-width': .3}, g);
  
  
  const bx = linear(-1, 1, 456, 657.3);
  corrBarTicks.forEach(t => {
    const lb = node('text', {x: bx(t), y: 978, 'font-size': 4.8, 'font-weight': 700, 'text-anchor': 'middle'}, g, String(t).replace('-', '−'));
    
    
  });
})();
</script>
</svg>
</body>
</html>
